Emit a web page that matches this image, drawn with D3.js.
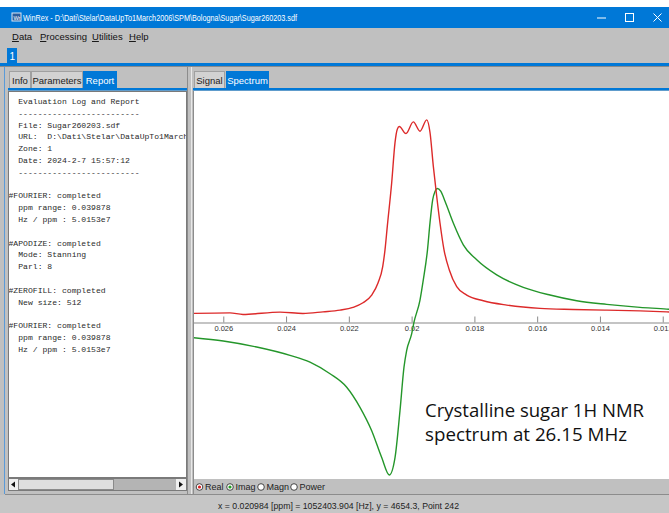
<!DOCTYPE html>
<html>
<head>
<meta charset="utf-8">
<script src="https://cdn.jsdelivr.net/npm/d3@7"></script>
<style>
  body { margin: 0; background: #fff; }
  svg { display: block; font-family: "Liberation Sans", Arial, sans-serif; }
  .mono { font-family: "Liberation Mono", "DejaVu Sans Mono", monospace; white-space: pre; }
</style>
</head>
<body>
<div id="app"></div>
<script>
// Real part of the spectrum (ppm, intensity)
var realPpm = [0.02697, 0.025787, 0.025372, 0.024193, 0.023461, 0.022823, 0.022282, 0.021868,
  0.021549, 0.021272, 0.021071, 0.020921, 0.020848, 0.020775, 0.020635, 0.020529, 0.020456,
  0.020392, 0.020179, 0.019946, 0.019733, 0.019519, 0.019414, 0.019309, 0.019201, 0.019096,
  0.018968, 0.018799, 0.018563, 0.018245, 0.017716, 0.01697, 0.015909, 0.014848, 0.013784,
  0.012723, 0.011873, 0.0118];
var realVal = [435, 465, 385, 500, 435, 515, 600, 735,
  965, 1350, 1950, 2765, 3600, 4765, 6935, 8935, 9600,
  9735, 9385, 9965, 9500, 10065, 9435, 7765, 6265, 4935,
  3600, 2600, 1765, 1350, 1065, 850, 685, 635, 600,
  565, 515, 510];

// Imaginary part of the spectrum (ppm, intensity)
var imagPpm = [0.02697, 0.026, 0.024936, 0.023875, 0.023238, 0.0226, 0.022068, 0.021645,
  0.021272, 0.020953, 0.020711, 0.020529, 0.02037, 0.020243, 0.020157, 0.019997, 0.019924,
  0.019733, 0.019628, 0.019494, 0.019414, 0.019328, 0.019255, 0.019182, 0.019073, 0.018936,
  0.018672, 0.018353, 0.017926, 0.017289, 0.016442, 0.015591, 0.01474, 0.013784, 0.012723,
  0.011873, 0.0118];
var imagVal = [-765, -935, -1235, -1650, -1985, -2565, -3235, -4235,
  -5400, -6735, -7600, -6735, -4400, -2235, -1400, -565, 0,
  1100, 2100, 3600, 4950, 6100, 6500, 6650, 6515, 6015,
  4935, 3850, 3100, 2350, 1735, 1350, 1065, 885, 735,
  650, 640];

var tickValues = [0.026, 0.024, 0.022, 0.02, 0.018, 0.016, 0.014, 0.012];
var tickLabels = ["0.026", "0.024", "0.022", "0.02", "0.018", "0.016", "0.014", "0.012"];

var titleText = "WinRex - D:\\Dati\\Stelar\\DataUpTo1March2006\\SPM\\Bologna\\Sugar\\Sugar260203.sdf";
var menuItems = ["Data", "Processing", "Utilities", "Help"];
var menuX = [12, 40, 92, 129];
var leftTabs = ["Info", "Parameters", "Report"];
var rightTabs = ["Signal", "Spectrum"];
var radioLabels = ["Real", "Imag", "Magn", "Power"];
var statusText = "x = 0.020984 [ppm] = 1052403.904 [Hz], y = 4654.3, Point 242";
var noteLines = ["Crystalline sugar 1H NMR", "spectrum at 26.15 MHz"];

var reportLines = [
  "  Evaluation Log and Report",
  "  -------------------------",
  "  File: Sugar260203.sdf",
  "  URL:  D:\\Dati\\Stelar\\DataUpTo1March2006\\SPM\\Bologna\\Sugar\\Sugar260203.sdf",
  "  Zone: 1",
  "  Date: 2024-2-7 15:57:12",
  "  -------------------------",
  "",
  "#FOURIER: completed",
  "  ppm range: 0.039878",
  "  Hz / ppm : 5.0153e7",
  "",
  "#APODIZE: completed",
  "  Mode: Stanning",
  "  Parl: 8",
  "",
  "#ZEROFILL: completed",
  "  New size: 512",
  "",
  "#FOURIER: completed",
  "  ppm range: 0.039878",
  "  Hz / ppm : 5.0153e7"
];

var W = 669, H = 513;
var blue = "#0078d7";
var gray = "#c0c0c0";

var svg = d3.select("#app").append("svg")
  .attr("width", W)
  .attr("height", H);

svg.append("rect").attr("width", W).attr("height", H).attr("fill", "#fff");
svg.append("rect").attr("y", 7).attr("width", W).attr("height", H - 7).attr("fill", gray);

// ---- title bar
svg.append("rect").attr("y", 7).attr("width", W).attr("height", 21).attr("fill", blue);
svg.append("rect").attr("x", 12).attr("y", 13).attr("width", 9).attr("height", 8)
  .attr("fill", "#2b5d9b").attr("stroke", "#dce8f5").attr("stroke-width", 1);
svg.append("text").attr("x", 13.5).attr("y", 19.6).attr("font-size", 5.5).attr("fill", "#fff").text("Wr");
svg.append("text").attr("x", 23).attr("y", 21)
  .attr("font-size", 9).attr("fill", "#fff")
  .attr("textLength", 274).attr("lengthAdjust", "spacingAndGlyphs")
  .text(titleText);
svg.append("line").attr("x1", 597).attr("x2", 606).attr("y1", 18).attr("y2", 18)
  .attr("stroke", "#fff");
svg.append("rect").attr("x", 625.5).attr("y", 13.5).attr("width", 8).attr("height", 8)
  .attr("fill", "none").attr("stroke", "#fff");
svg.append("path").attr("d", "M653.5,13.5L661.5,21.5M661.5,13.5L653.5,21.5")
  .attr("stroke", "#fff");

// ---- menu
menuItems.forEach(function(m, i) {
  var t = svg.append("text").attr("x", menuX[i]).attr("y", 40)
    .attr("font-size", 9.5).attr("fill", "#111");
  t.append("tspan").style("text-decoration", "underline").text(m[0]);
  t.append("tspan").text(m.slice(1));
});

// tab "1" and blue strip
svg.append("rect").attr("x", 7).attr("y", 48).attr("width", 10).attr("height", 16).attr("fill", blue);
svg.append("text").attr("x", 9.5).attr("y", 60).attr("font-size", 10).attr("fill", "#fff").text("1");
svg.append("rect").attr("y", 63).attr("width", W).attr("height", 3).attr("fill", blue);
svg.append("line").attr("x1", 0).attr("x2", W).attr("y1", 66.5).attr("y2", 66.5).attr("stroke", "#8a8a8a");
svg.append("line").attr("x1", 4.5).attr("x2", 4.5).attr("y1", 67).attr("y2", 494).attr("stroke", "#5a9ad8");

// ---- tabs
function drawTabs(labels, xs, ws, sel) {
  labels.forEach(function(l, i) {
    var on = i === sel;
    svg.append("rect").attr("x", xs[i] + 0.5).attr("y", 71.5).attr("width", ws[i]).attr("height", 17)
      .attr("fill", on ? blue : "#d2d2d2").attr("stroke", on ? blue : "#a0a0a0");
    svg.append("text").attr("x", xs[i] + ws[i] / 2 + 0.5).attr("y", 84)
      .attr("text-anchor", "middle").attr("font-size", 9.5)
      .attr("fill", on ? "#fff" : "#222").text(l);
  });
}
drawTabs(leftTabs, [9, 31, 83], [21, 51, 33], 2);
drawTabs(rightTabs, [194, 226], [30, 42], 1);
svg.append("rect").attr("x", 8).attr("y", 88).attr("width", 179).attr("height", 2.5).attr("fill", blue);
svg.append("rect").attr("x", 193).attr("y", 88).attr("width", 476).attr("height", 2.5).attr("fill", blue);

// splitter
svg.append("line").attr("x1", 187.5).attr("x2", 187.5).attr("y1", 67).attr("y2", 494).attr("stroke", "#8c8c8c");
svg.append("line").attr("x1", 191.5).attr("x2", 191.5).attr("y1", 67).attr("y2", 494).attr("stroke", "#e8e8e8");

// ---- report box
svg.append("rect").attr("x", 8.5).attr("y", 91.5).attr("width", 178).attr("height", 386)
  .attr("fill", "#fff").attr("stroke", "#7a7a7a");
svg.append("clipPath").attr("id", "repClip")
  .append("rect").attr("x", 9).attr("y", 92).attr("width", 177).attr("height", 385);
svg.append("g").attr("clip-path", "url(#repClip)")
  .selectAll("text")
  .data(reportLines)
  .enter()
  .append("text")
  .attr("class", "mono")
  .attr("x", 8.5)
  .attr("y", (d, i) => 104 + i * 11.8)
  .attr("font-size", 8.1)
  .attr("fill", "#2a2a2a")
  .text(d => d);

// scrollbar
svg.append("rect").attr("x", 8.5).attr("y", 478.5).attr("width", 178).attr("height", 12)
  .attr("fill", "#b4b4b4").attr("stroke", "#7a7a7a");
svg.append("rect").attr("x", 9).attr("y", 479).attr("width", 9).attr("height", 11).attr("fill", "#efefef");
svg.append("rect").attr("x", 176).attr("y", 479).attr("width", 10).attr("height", 11).attr("fill", "#efefef");
svg.append("rect").attr("x", 18.5).attr("y", 479.5).attr("width", 95).attr("height", 10)
  .attr("fill", "#dedede").attr("stroke", "#8a8a8a");
svg.append("path").attr("d", "M11,484.5L15,481.5L15,487.5Z").attr("fill", "#111");
svg.append("path").attr("d", "M183,484.5L179,481.5L179,487.5Z").attr("fill", "#111");

// ---- spectrum plot
var plot = { left: 193, right: 669, top: 91, bottom: 479 };
svg.append("rect").attr("x", plot.left).attr("y", plot.top)
  .attr("width", plot.right - plot.left).attr("height", plot.bottom - plot.top).attr("fill", "#fff");
svg.append("line").attr("x1", 193.5).attr("x2", 193.5).attr("y1", 91).attr("y2", 494).attr("stroke", "#8c8c8c");

var x = d3.scaleLinear().domain([0.026965, 0.0118]).range([plot.left, plot.right]);
var y = d3.scaleLinear().domain([-7800, 11500]).range([plot.bottom, plot.top]);

svg.append("clipPath").attr("id", "plotClip")
  .append("rect").attr("x", plot.left + 1).attr("y", plot.top)
  .attr("width", plot.right - plot.left - 1).attr("height", plot.bottom - plot.top);

var chart = svg.append("g").attr("clip-path", "url(#plotClip)");

var xAxis = d3.axisBottom(x)
  .tickValues(tickValues)
  .tickFormat((d, i) => tickLabels[i])
  .tickSize(-6)
  .tickSizeOuter(0)
  .tickPadding(3);

var axisG = chart.append("g")
  .attr("transform", `translate(0, ${Math.round(y(0)) + 0.5})`)
  .call(xAxis);
axisG.select(".domain").attr("stroke", "#8a8a8a").attr("stroke-width", 1.2);
axisG.selectAll(".tick line").attr("stroke", "#8a8a8a");
axisG.selectAll(".tick text").attr("font-size", 7.5).attr("fill", "#333")
  .attr("font-family", "Liberation Sans, Arial, sans-serif");

var realData = realPpm.map((p, i) => ({ p: p, v: realVal[i] }));
var imagData = imagPpm.map((p, i) => ({ p: p, v: imagVal[i] }));

var line = d3.line()
  .x(d => x(d.p))
  .y(d => y(d.v))
  .curve(d3.curveMonotoneX);

chart.append("path").datum(imagData)
  .attr("d", line).attr("fill", "none")
  .attr("stroke", "#24962a").attr("stroke-width", 1.4);
chart.append("path").datum(realData)
  .attr("d", line).attr("fill", "none")
  .attr("stroke", "#dc2a2a").attr("stroke-width", 1.4);

// annotation
noteLines.forEach(function(t, i) {
  svg.append("text").attr("x", 425).attr("y", 417 + i * 23.5)
    .attr("font-family", "Open Sans, Noto Sans, sans-serif")
    .attr("font-size", 17.5).attr("fill", "#111")
    .attr("textLength", i === 0 ? 219 : 202).attr("lengthAdjust", "spacingAndGlyphs")
    .text(t);
});

// radio buttons
var radioX = [199.5, 230, 261, 294];
var radioDot = ["#e02020", "#22a022", null, null];
radioLabels.forEach(function(l, i) {
  svg.append("circle").attr("cx", radioX[i]).attr("cy", 487).attr("r", 3.3)
    .attr("fill", "#fff").attr("stroke", "#333").attr("stroke-width", 0.9);
  if (radioDot[i]) {
    svg.append("circle").attr("cx", radioX[i]).attr("cy", 487).attr("r", 1.6).attr("fill", radioDot[i]);
  }
  svg.append("text").attr("x", radioX[i] + 5.5).attr("y", 490.3)
    .attr("font-size", 9).attr("fill", "#222").text(l);
});
svg.append("line").attr("x1", 5).attr("x2", W).attr("y1", 494.5).attr("y2", 494.5).attr("stroke", "#8c8c8c");

// status bar
svg.append("rect").attr("y", 495).attr("width", W).attr("height", 18).attr("fill", "#c6c6c6");
svg.append("text").attr("x", 218).attr("y", 509)
  .attr("font-size", 9).attr("fill", "#222")
  .attr("textLength", 241).attr("lengthAdjust", "spacingAndGlyphs")
  .text(statusText);
</script>
</body>
</html>
